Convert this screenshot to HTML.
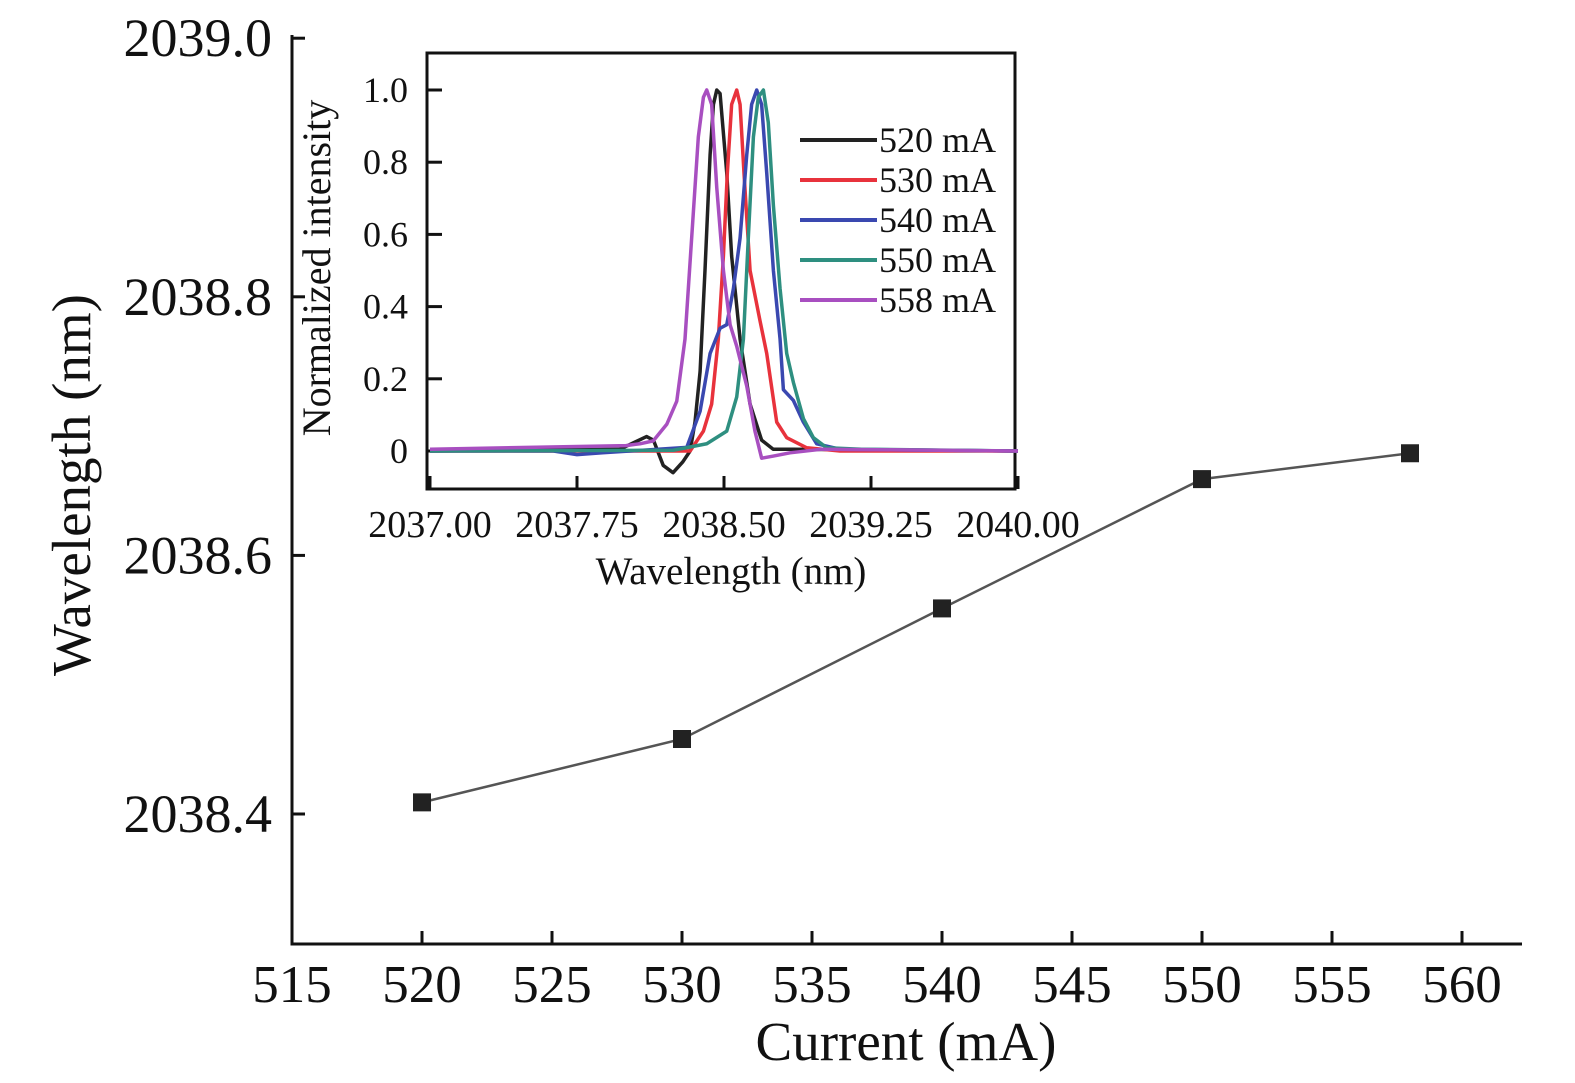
<!DOCTYPE html>
<html><head><meta charset="utf-8"><style>
body{margin:0;background:#fff}
svg{display:block;font-family:"Liberation Serif",serif}
</style></head><body>
<svg id="c" width="1575" height="1083" viewBox="0 0 1575 1083"></svg>
<script>
const currents=[520,530,540,550,558];
const wavelengths=[2038.409,2038.458,2038.559,2038.659,2038.679];
const xTicks=[515,520,525,530,535,540,545,550,555,560];
const yTicks=[2038.4,2038.6,2038.8,2039.0];
const insetXTicks=[2037.00,2037.75,2038.50,2039.25,2040.00];
const insetYTicks=[0,0.2,0.4,0.6,0.8,1.0];
const seriesNames=["520 mA","530 mA","540 mA","550 mA","558 mA"];
const s520w=[2037.0,2037.97,2038.105,2038.14,2038.19,2038.24,2038.29,2038.327,2038.352,2038.378,2038.403,2038.429,2038.446,2038.463,2038.480,2038.514,2038.539,2038.582,2038.633,2038.692,2038.751,2038.85,2040.0];
const s520v=[0,0.005,0.04,0.03,-0.04,-0.06,-0.03,0,0.08,0.22,0.50,0.82,0.96,1.0,0.99,0.77,0.54,0.31,0.13,0.03,0.005,0.005,0];
const s530w=[2037.0,2038.24,2038.327,2038.395,2038.437,2038.471,2038.497,2038.517,2038.539,2038.565,2038.582,2038.602,2038.633,2038.684,2038.718,2038.769,2038.820,2038.922,2039.092,2040.0];
const s530v=[0,0,0,0.055,0.13,0.31,0.54,0.77,0.96,1.0,0.96,0.77,0.50,0.36,0.27,0.08,0.037,0.009,0,0];
const s540w=[2037.0,2037.63,2037.75,2037.88,2038.31,2038.378,2038.429,2038.480,2038.514,2038.548,2038.582,2038.616,2038.641,2038.667,2038.692,2038.718,2038.752,2038.786,2038.803,2038.854,2038.905,2038.973,2039.092,2040.0];
const s540v=[0,0,-0.01,-0.005,0.01,0.11,0.27,0.34,0.35,0.45,0.59,0.82,0.96,1.0,0.96,0.77,0.5,0.31,0.17,0.14,0.08,0.02,0.005,0];
const s550w=[2037.0,2038.241,2038.412,2038.514,2038.565,2038.599,2038.624,2038.650,2038.675,2038.701,2038.726,2038.752,2038.786,2038.820,2038.854,2038.905,2038.956,2039.024,2039.2,2040.0];
const s550v=[0,0.002,0.02,0.055,0.15,0.31,0.59,0.87,0.98,1.0,0.91,0.68,0.45,0.27,0.19,0.09,0.037,0.009,0.005,0];
const s558w=[2037.0,2038.0,2038.071,2038.139,2038.208,2038.259,2038.301,2038.335,2038.369,2038.395,2038.412,2038.437,2038.463,2038.497,2038.531,2038.565,2038.616,2038.658,2038.692,2038.752,2038.837,2039.0,2040.0];
const s558v=[0.005,0.015,0.02,0.028,0.074,0.138,0.31,0.59,0.87,0.98,1.0,0.96,0.73,0.5,0.35,0.29,0.18,0.055,-0.02,-0.014,-0.005,0.005,0];
const seriesW=[s520w,s530w,s540w,s550w,s558w];
const seriesV=[s520v,s530v,s540v,s550v,s558v];
const colors=["#222","#e8323c","#3a48b0","#2e8f80","#a84fc0"];

const NS="http://www.w3.org/2000/svg",svg=document.getElementById("c");
function el(t,a,p){const e=document.createElementNS(NS,t);for(const k in a)e.setAttribute(k,a[k]);(p||svg).appendChild(e);return e;}
const X=v=>292+(v-515)*26, Y=v=>814-(v-2038.4)*1293;
let g=el("g",{});
el("path",{d:`M292 35V944H1522`,fill:"none",stroke:"#111","stroke-width":3},g);
xTicks.forEach(t=>{el("line",{x1:X(t),x2:X(t),y1:944,y2:931,stroke:"#111","stroke-width":3},g);
 const tx=el("text",{x:X(t),y:1002,"text-anchor":"middle","font-size":53,fill:"#111"},g);tx.textContent=t;
 });
yTicks.forEach(t=>{el("line",{x1:292,x2:305,y1:Y(t),y2:Y(t),stroke:"#111","stroke-width":3},g);
 const tx=el("text",{x:272,y:Y(t)+18,"text-anchor":"end","font-size":54,fill:"#111"},g);tx.textContent=t.toFixed(1);
 });
let tt=el("text",{x:906,y:1060,"text-anchor":"middle","font-size":55,fill:"#111"});tt.textContent="Current (mA)";

tt=el("text",{x:0,y:0,transform:"translate(90,485) rotate(-90)","text-anchor":"middle","font-size":55,fill:"#111"});tt.textContent="Wavelength (nm)";

const ln=el("polyline",{points:currents.map((c,i)=>X(c)+","+Y(wavelengths[i])).join(" "),fill:"none",stroke:"#555","stroke-width":2.5});

currents.forEach((c,i)=>{const r=el("rect",{x:X(c)-9,y:Y(wavelengths[i])-9,width:18,height:18,fill:"#222"});
 });
const IX=v=>430+(v-2037)*196, IY=v=>451-v*361;
const ig=el("g",{});
el("rect",{x:427,y:53,width:588,height:436,fill:"#fff",stroke:"#111","stroke-width":3},ig);
insetYTicks.forEach(t=>{el("line",{x1:427,x2:442,y1:IY(t),y2:IY(t),stroke:"#111","stroke-width":3},ig);
 const tx=el("text",{x:408,y:IY(t)+12,"text-anchor":"end","font-size":36,fill:"#111"},ig);tx.textContent=t===0?"0":t.toFixed(1);
 });
insetXTicks.forEach(t=>{el("line",{x1:IX(t),x2:IX(t),y1:489,y2:476,stroke:"#111","stroke-width":3},ig);
 const tx=el("text",{x:IX(t),y:537,"text-anchor":"middle","font-size":38,fill:"#111"},ig);tx.textContent=t.toFixed(2);
 });
tt=el("text",{x:731,y:584,"text-anchor":"middle","font-size":39,fill:"#111"},ig);tt.textContent="Wavelength (nm)";

tt=el("text",{x:0,y:0,transform:"translate(330,268) rotate(-90)","text-anchor":"middle","font-size":40,fill:"#111"},ig);tt.textContent="Normalized intensity";

seriesW.forEach((ws,si)=>{const p=el("polyline",{points:ws.map((w,i)=>IX(w)+","+IY(seriesV[si][i])).join(" "),fill:"none",stroke:colors[si],"stroke-width":3.5,"stroke-linejoin":"round"},ig);
 });
seriesNames.forEach((n,i)=>{const y=140+i*40;
 const lg=el("g",{},ig);
 el("line",{x1:800,x2:877,y1:y,y2:y,stroke:colors[i],"stroke-width":4},lg);
 const tx=el("text",{x:879,y:y+12,"font-size":36,fill:"#111"},lg);tx.textContent=n;});
</script>
</body></html>
